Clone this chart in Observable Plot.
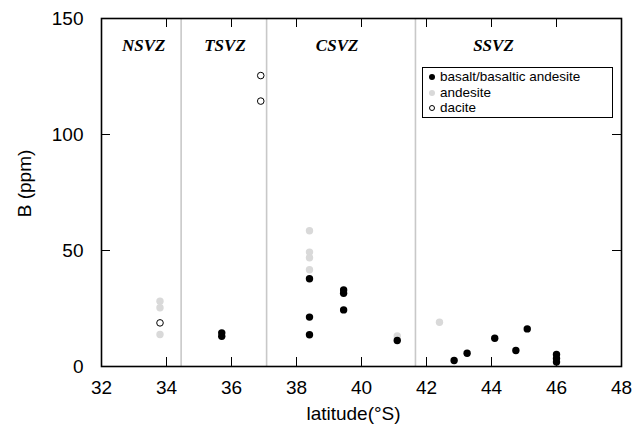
<!DOCTYPE html>
<html>
<head>
<meta charset="utf-8">
<script src="https://cdn.jsdelivr.net/npm/d3@7"></script>
<script src="https://cdn.jsdelivr.net/npm/@observablehq/plot@0.6"></script>
<style>
  body { margin: 0; background: #fff; }
  #wrap { position: relative; width: 635px; height: 431px; }
  .legend {
    position: absolute; left: 422px; top: 67px; width: 191px; height: 51px;
    border: 1.5px solid #000; box-sizing: border-box; background: #fff;
    font: 13.5px "Liberation Sans", Arial, Helvetica, sans-serif;
    line-height: 15.5px; padding-top: 1px; padding-left: 6px; color: #000;
  }
  .legend .row { white-space: nowrap; height: 15.5px; }
  .legend .sym { display: inline-block; width: 6px; height: 6px; border-radius: 50%;
    box-sizing: border-box; margin-right: 5px; vertical-align: 1px; }
</style>
</head>
<body>
<div id="wrap"></div>
<script>
// ---- data ----
const basaltLat = [35.7, 35.7, 38.4, 38.4, 38.4, 39.45, 39.45, 39.45, 41.1, 42.85, 43.25, 44.1, 44.75, 45.1, 46.0, 46.0, 46.0];
const basaltB   = [13.0, 14.5, 37.8, 21.3, 13.7, 33.0, 31.6, 24.4, 11.2, 2.6, 5.7, 12.2, 6.9, 16.2, 5.2, 3.5, 1.9];
const andesiteLat = [33.8, 33.8, 33.8, 38.4, 38.4, 38.4, 38.4, 41.1, 42.4];
const andesiteB   = [28.1, 25.3, 13.8, 58.5, 49.3, 46.9, 41.7, 13.2, 19.1];
const daciteLat = [33.8, 36.9, 36.9];
const daciteB   = [18.8, 125.4, 114.4];
const zoneBounds = [34.45, 37.08, 41.66];
const zoneNames  = ["NSVZ", "TSVZ", "CSVZ", "SSVZ"];
const zoneLabelLat = [33.3, 35.8, 39.25, 44.06];
const xTicks = [32, 34, 36, 38, 40, 42, 44, 46, 48];
const yTicks = [0, 50, 100, 150];
const xInnerTicks = [34, 36, 38, 40, 42, 44, 46];
const yInnerTicks = [50, 100];
const seriesNames = ["basalt/basaltic andesite", "andesite", "dacite"];
const xTitle = "latitude(°S)";
const yTitle = "B (ppm)";

// ---- build ----
const toRows = (lat, b) => lat.map((v, i) => ({lat: v, b: b[i]}));
const basalt = toRows(basaltLat, basaltB);
const andesite = toRows(andesiteLat, andesiteB);
const dacite = toRows(daciteLat, daciteB);

const W = 635, H = 431, mT = 18, mB = 65, mL = 101, mR = 14;
const plotH = H - mT - mB, plotW = W - mL - mR;
const tickLen = 9;
const sans = '"Liberation Sans", Arial, Helvetica, sans-serif';

const chart = Plot.plot({
  width: W, height: H,
  marginTop: mT, marginBottom: mB, marginLeft: mL, marginRight: mR,
  style: {fontFamily: sans, fontSize: "19px", color: "#000", background: "#fff", overflow: "visible"},
  x: {domain: [32, 48]},
  y: {domain: [0, 150]},
  marks: [
    Plot.ruleX(zoneBounds, {stroke: "#c8c8c8", strokeWidth: 1.6}),
    Plot.dot(andesite, {x: "lat", y: "b", r: 3.7, fill: "#d9d9d9", stroke: "none"}),
    Plot.dot(basalt, {x: "lat", y: "b", r: 3.7, fill: "#000", stroke: "none"}),
    Plot.dot(dacite, {x: "lat", y: "b", r: 3.3, fill: "#fff", stroke: "#000", strokeWidth: 1}),
    Plot.text(zoneNames, {x: (d, i) => zoneLabelLat[i], text: d => d, frameAnchor: "top", dy: 27,
      lineAnchor: "middle", fontFamily: '"Liberation Serif", "Times New Roman", serif',
      fontWeight: "bold", fontStyle: "italic", fontSize: 17}),
    // inward ticks on all four sides
    Plot.ruleX(xInnerTicks, {insetTop: plotH - tickLen, stroke: "#000", strokeWidth: 1}),
    Plot.ruleX(xInnerTicks, {insetBottom: plotH - tickLen, stroke: "#000", strokeWidth: 1}),
    Plot.ruleY(yInnerTicks, {insetRight: plotW - tickLen, stroke: "#000", strokeWidth: 1}),
    Plot.ruleY(yInnerTicks, {insetLeft: plotW - tickLen, stroke: "#000", strokeWidth: 1}),
    Plot.frame({stroke: "#000", strokeWidth: 1.6}),
    Plot.axisX(xTicks, {tickSize: 0, tickPadding: 14, fontSize: 19, label: null}),
    Plot.axisY(yTicks, {tickSize: 0, tickPadding: 18, fontSize: 19, label: null}),
    Plot.text([xTitle], {text: d => d, frameAnchor: "bottom", dy: 47, dx: -8, lineAnchor: "middle", textAnchor: "middle", fontSize: 19}),
    Plot.text([yTitle], {text: d => d, frameAnchor: "left", rotate: -90, dx: -77, dy: -9, lineAnchor: "middle", textAnchor: "middle", fontSize: 19})
  ]
});

const wrap = document.getElementById("wrap");
wrap.appendChild(chart);

// legend inside the plot frame
const legend = document.createElement("div");
legend.className = "legend";
const symStyles = [
  "background:#000;",
  "background:#d9d9d9;",
  "background:#fff;border:1px solid #000;"
];
seriesNames.forEach((name, i) => {
  const row = document.createElement("div");
  row.className = "row";
  const s = document.createElement("span");
  s.className = "sym";
  s.setAttribute("style", symStyles[i]);
  row.appendChild(s);
  row.appendChild(document.createTextNode(name));
  legend.appendChild(row);
});
wrap.appendChild(legend);
</script>
</body>
</html>
